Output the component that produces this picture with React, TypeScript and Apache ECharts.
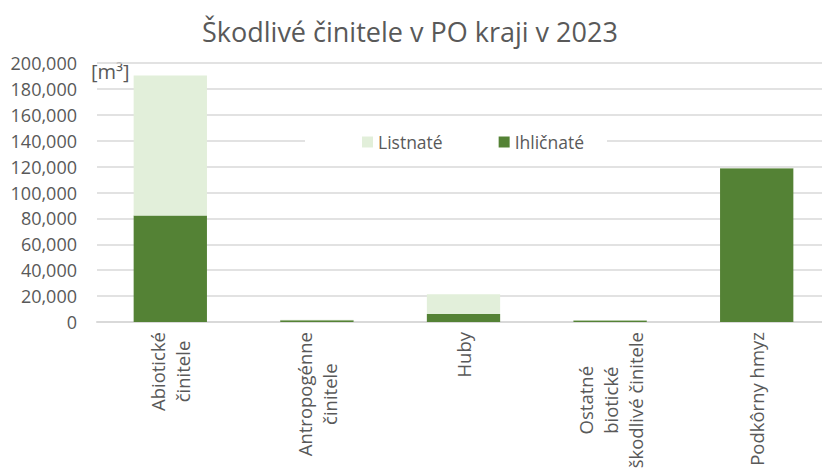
import React, { useEffect, useRef } from "react";
import * as echarts from "echarts";

const categories = [
  "Abiotické\nčinitele",
  "Antropogénne\nčinitele",
  "Huby",
  "Ostatné\nbiotické\nškodlivé činitele",
  "Podkôrny hmyz",
];
const ihlicnate = [82300, 1300, 6200, 1200, 118800];
const listnate = [108100, 400, 15200, 100, 200];
const yTicks = { min: 0, max: 200000, interval: 20000 };

const FONT = "Open Sans";
const TXT = "#595959";

export default function App() {
  const ref = useRef<HTMLDivElement>(null);
  useEffect(() => {
    if (!ref.current) return;
    const chart = echarts.init(ref.current, null, { renderer: "svg" });
    chart.setOption({
      animation: false,
      backgroundColor: "#ffffff",
      textStyle: { fontFamily: FONT, color: TXT },
      title: {
        text: "Škodlivé činitele v PO kraji v 2023",
        left: 197,
        top: 13,
        textStyle: { fontFamily: FONT, fontSize: 27, fontWeight: "normal", color: TXT },
      },
      legend: {
        data: ["Listnaté", "Ihličnaté"],
        left: 305,
        top: 124,
        padding: [9, 23, 9, 57],
        backgroundColor: "#ffffff",
        itemWidth: 11,
        itemHeight: 11,
        itemGap: 56,
        icon: "rect",
        textStyle: { fontFamily: FONT, fontSize: 17.5, color: TXT },
      },
      grid: {
        left: 97,
        width: 733,
        top: 63,
        bottom: 146,
        containLabel: false,
        outerBoundsMode: "none",
      },
      xAxis: {
        type: "category",
        data: categories,
        axisLine: { lineStyle: { color: "#D9D9D9", width: 2 } },
        axisTick: { show: false },
        axisLabel: {
          rotate: 90,
          margin: 10,
          interval: 0,
          fontFamily: FONT,
          fontSize: 18.5,
          color: TXT,
          lineHeight: 25,
          formatter: (v: string) =>
            v
              .split("\n")
              .map((l) => `{c|${l}}`)
              .join("\n"),
          rich: {
            c: { align: "center", fontFamily: FONT, fontSize: 18.5, color: TXT, lineHeight: 25 },
          },
        },
      },
      yAxis: {
        type: "value",
        min: yTicks.min,
        max: yTicks.max,
        interval: yTicks.interval,
        axisLine: { show: false },
        axisTick: { show: false },
        splitLine: { lineStyle: { color: "#D9D9D9", width: 1.5 } },
        axisLabel: {
          margin: 20,
          fontFamily: FONT,
          fontSize: 18,
          color: TXT,
          formatter: (v: number) => v.toLocaleString("en-US"),
        },
      },
      graphic: [
        {
          type: "text",
          left: 91,
          top: 61,
          style: { text: "[m³]", fontFamily: FONT, fontSize: 20, fill: TXT },
        },
      ],
      series: [
        {
          name: "Ihličnaté",
          type: "bar",
          stack: "total",
          barWidth: "50%",
          data: ihlicnate,
          itemStyle: { color: "#548235" },
        },
        {
          name: "Listnaté",
          type: "bar",
          stack: "total",
          barWidth: "50%",
          data: listnate,
          itemStyle: { color: "#E2EFDA" },
        },
      ],
    });
    return () => chart.dispose();
  }, []);
  return (
    <div
      ref={ref}
      style={{ position: "fixed", left: 0, top: 0, width: 822, height: 468 }}
    />
  );
}
